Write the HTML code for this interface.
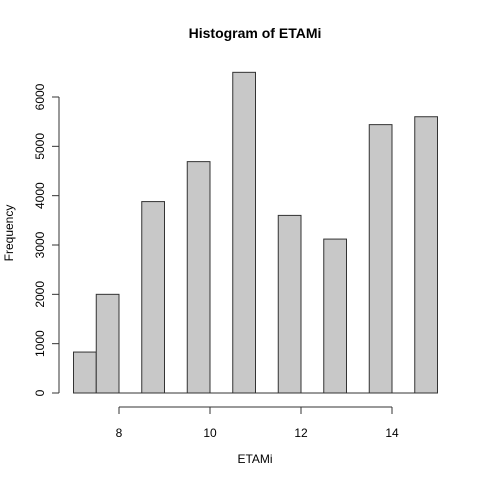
<!DOCTYPE html>
<html><head><meta charset="utf-8"><style>
html,body{margin:0;padding:0;background:#fff;}
svg text{font-family:"Liberation Sans",Arial,sans-serif;fill:#000;}
</style></head><body>
<svg id="chart" width="480" height="480" viewBox="0 0 480 480">
<rect width="480" height="480" fill="#fff"/>
<text x="255" y="38" text-anchor="middle" font-size="14" font-weight="bold">Histogram of ETAMi</text>
<text x="255" y="463" text-anchor="middle" font-size="12">ETAMi</text>
<text transform="translate(13,233) rotate(-90)" text-anchor="middle" font-size="12">Frequency</text>
<g id="bars"></g>
<g id="xaxis"></g>
<g id="yaxis"></g>
</svg>
<script>
const binStarts=[7,7.5,8,8.5,9,9.5,10,10.5,11,11.5,12,12.5,13,13.5,14,14.5];
const counts=[830,2000,0,3880,0,4690,0,6500,0,3600,0,3120,0,5440,0,5600];
const binWidth=0.5;
const xTicks=[8,10,12,14];
const yTicks=[0,1000,2000,3000,4000,5000,6000];
const NS="http://www.w3.org/2000/svg";
function xs(v){return 119+(v-8)*45.5;}
function ys(v){return 393-v*(296/6000);}
function mk(tag,attrs,parent){const e=document.createElementNS(NS,tag);for(const k in attrs)e.setAttribute(k,attrs[k]);parent.appendChild(e);return e;}
const bars=document.getElementById('bars');
binStarts.forEach((b,i)=>{
  const x0=xs(b),x1=xs(b+binWidth),y=ys(counts[i]);
  let r;
  if(counts[i]===0){
    r=mk('line',{x1:x0,x2:x1,y1:ys(0),y2:ys(0),stroke:'#333','stroke-width':1},bars);
  } else {
    r=mk('rect',{x:x0,y:y,width:x1-x0,height:ys(0)-y,fill:'#c8c8c8',stroke:'#333','stroke-width':1},bars);
  }
  
  
});
const xa=document.getElementById('xaxis');
const xl=mk('line',{x1:xs(xTicks[0]),x2:xs(xTicks[xTicks.length-1]),y1:407,y2:407,stroke:'#333'},xa);


xTicks.forEach(t=>{
  mk('line',{x1:xs(t),x2:xs(t),y1:407,y2:414,stroke:'#333'},xa);
  const tx=mk('text',{x:xs(t),y:437,'text-anchor':'middle','font-size':12},xa);
  tx.textContent=t;
  
  
});
const ya=document.getElementById('yaxis');
const yl=mk('line',{x1:59,x2:59,y1:ys(0),y2:ys(6000),stroke:'#333'},ya);


yTicks.forEach(t=>{
  mk('line',{x1:52,x2:59,y1:ys(t),y2:ys(t),stroke:'#333'},ya);
  const tx=mk('text',{'text-anchor':'middle','font-size':12,transform:'translate(44,'+ys(t)+') rotate(-90)'},ya);
  tx.textContent=t;
  
  
});
</script>
</body></html>
